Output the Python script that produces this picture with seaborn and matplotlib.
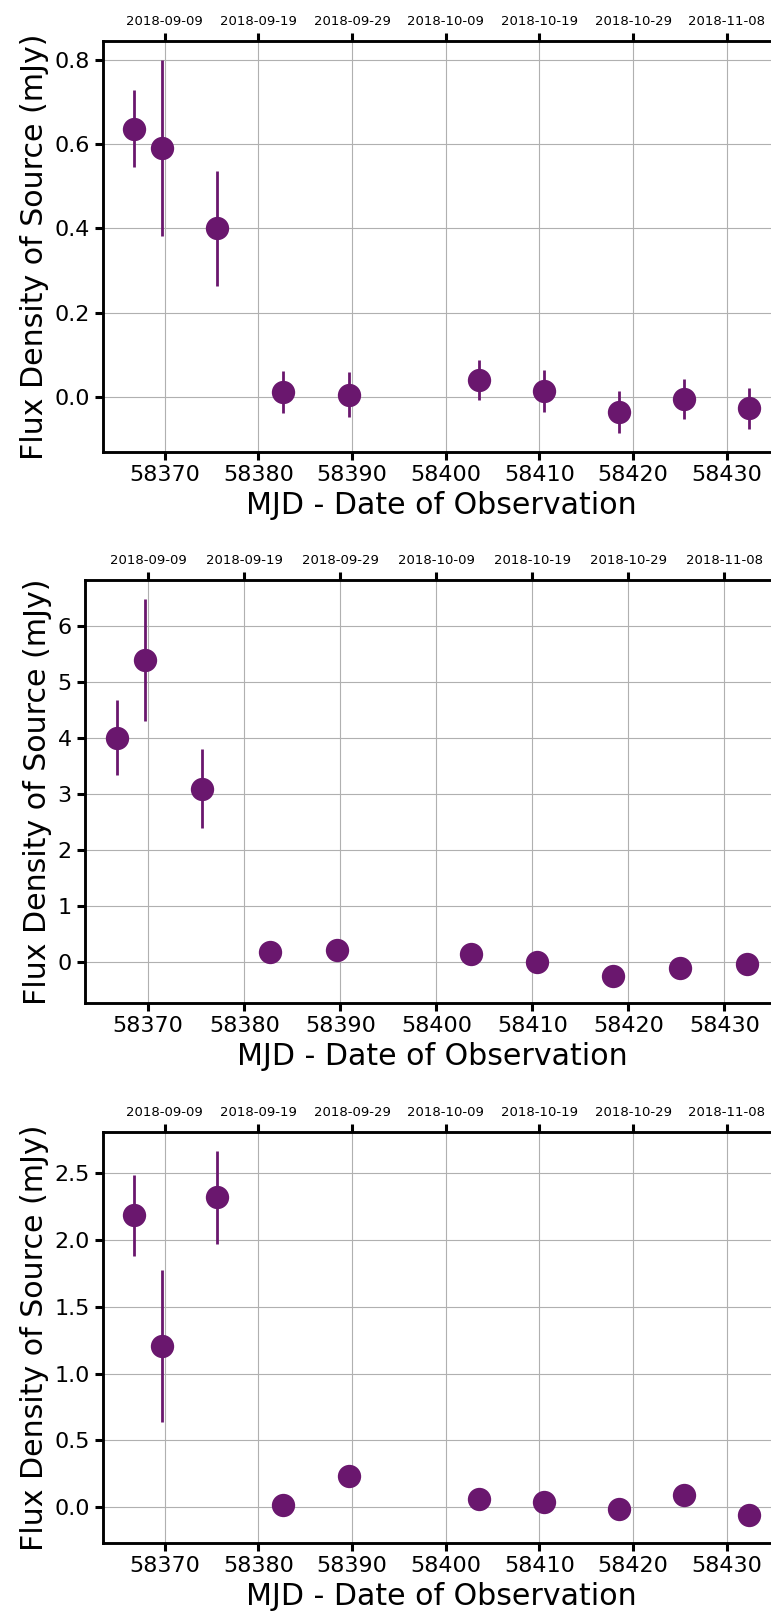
import matplotlib
matplotlib.use("Agg")
import matplotlib.pyplot as plt
import seaborn as sns
import pandas as pd
from matplotlib.ticker import MultipleLocator

# ---------------- data ----------------
mjd = [58366.7, 58369.7, 58375.6, 58382.65, 58389.7, 58403.6, 58410.5, 58418.45, 58425.4, 58432.4]

flux1 = [0.637, 0.591, 0.400, 0.011, 0.005, 0.040, 0.014, -0.037, -0.005, -0.028]
err1 = [0.092, 0.210, 0.136, 0.050, 0.053, 0.047, 0.050, 0.050, 0.048, 0.049]

flux2 = [4.00, 5.38, 3.09, 0.167, 0.208, 0.137, 0.00, -0.26, -0.12, -0.04]
err2 = [0.67, 1.09, 0.71, 0.13, 0.13, 0.13, 0.13, 0.134, 0.13, 0.13]

flux3 = [2.185, 1.21, 2.32, 0.013, 0.233, 0.058, 0.040, -0.010, 0.095, -0.058]
err3 = [0.30, 0.57, 0.35, 0.07, 0.07, 0.07, 0.07, 0.07, 0.07, 0.07]

date_ticks = [58370, 58380, 58390, 58400, 58410, 58420, 58430]
date_labels = ["2018-09-09", "2018-09-19", "2018-09-29", "2018-10-09",
               "2018-10-19", "2018-10-29", "2018-11-08"]

y_steps = [0.2, 1.0, 0.5]

# ---------------- style ----------------
sns.set_style("ticks", {"axes.grid": True, "grid.color": "#b0b0b0",
                        "axes.edgecolor": "black"})
plt.rcParams["font.family"] = ["DejaVu Sans"]
plt.rcParams["text.color"] = "black"
plt.rcParams["axes.labelcolor"] = "black"
plt.rcParams["xtick.color"] = "black"
plt.rcParams["ytick.color"] = "black"

color = "#6a176e"

W, H = 771, 1617
fig = plt.figure(figsize=(W / 100, H / 100), dpi=100)

# panel boxes in pixels: (left, top, bottom, right)
boxes = [(103, 41, 452, 780), (85, 580, 1003, 779), (103, 1132, 1543, 780)]

series = [(flux1, err1), (flux2, err2), (flux3, err3)]

for (l, t, b, r), (flux, err), step in zip(boxes, series, y_steps):
    ax = fig.add_axes([l / W, 1 - b / H, (r - l) / W, (b - t) / H])
    df = pd.DataFrame({"mjd": mjd, "flux": flux, "err": err})
    ax.errorbar(df["mjd"], df["flux"], yerr=df["err"], fmt="none",
                ecolor=color, elinewidth=2.0, capsize=0, zorder=2)
    sns.scatterplot(data=df, x="mjd", y="flux", ax=ax, color=color,
                    s=282, linewidth=0, zorder=3)
    ax.set_xticks(date_ticks)
    ax.yaxis.set_major_locator(MultipleLocator(step))
    ax.set_xlabel("MJD - Date of Observation", fontsize=21.6, color="black")
    ax.set_ylabel("Flux Density of Source (mJy)", fontsize=21.6, color="black")
    ax.tick_params(labelsize=16, width=2.2, length=6, direction="out",
                   colors="black")
    ax.grid(True, color="#b0b0b0", linewidth=0.8)
    ax.set_axisbelow(True)
    for sp in ax.spines.values():
        sp.set_linewidth(1.8)
        sp.set_color("black")

    top = ax.twiny()
    top.set_xlim(ax.get_xlim())
    top.set_xticks(date_ticks)
    top.set_xticklabels(date_labels, fontsize=9.5)
    top.tick_params(width=2.2, length=6, direction="out", colors="black")
    top.grid(False)
    for sp in top.spines.values():
        sp.set_linewidth(1.8)
        sp.set_color("black")

fig.savefig("out.png", dpi=100)
